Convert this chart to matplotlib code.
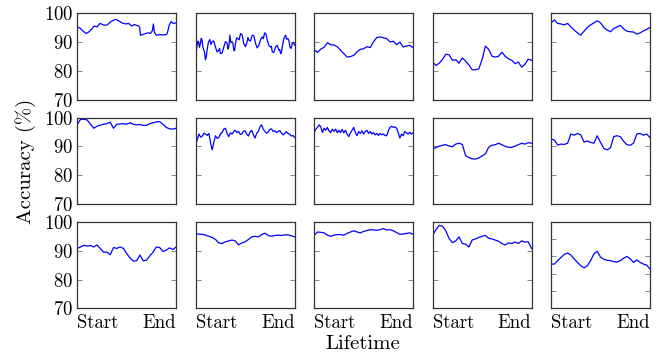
import numpy as np
import matplotlib
matplotlib.use("Agg")
import matplotlib.pyplot as plt

plt.rcParams['font.family'] = ['cmr10', 'DejaVu Serif']
plt.rcParams['mathtext.fontset'] = 'cm'
plt.rcParams['axes.unicode_minus'] = False
plt.rcParams['axes.formatter.use_mathtext'] = True

# --- data: accuracy (%) over the lifetime (0 = start, 100 = end) ---
# row 1
t11 = [0, 3, 6, 9, 12, 15, 17, 20, 23, 27, 30, 34, 36, 39, 42, 45, 49, 52, 55, 58,
       60, 62, 63, 64, 66, 69, 72, 74, 76, 77, 78, 80, 83, 87, 90, 91, 93, 95, 97, 100]
a11 = [95.3, 94.8, 93.8, 93.0, 93.6, 94.7, 95.6, 95.3, 96.5, 95.9, 95.9, 97.1, 97.5, 97.9, 97.4,
       96.7, 96.3, 96.5, 95.6, 96.1, 95.8, 95.6, 95.3, 92.4, 92.6, 93.0, 93.2, 93.0, 94.0, 96.3,
       93.4, 92.4, 92.6, 92.5, 92.6, 93.0, 95.9, 97.1, 96.5, 96.7]
t12 = [0, 0.7, 1.4, 2.2, 3, 3.8, 4.7, 5.5, 6.4, 7.2, 8.1, 9.0, 9.8, 10.6, 11.5, 12.8, 14.2, 15.4,
       16.6, 18.2, 19.9, 21.6, 23.3, 24.1, 25, 26.7, 28.4, 30.1, 31.8, 32.6, 33.4, 34.0, 34.5, 35.6,
       36.8, 37.6, 38.5, 39.3, 40.2, 41.4, 42.6, 44.0, 45.3, 47.0, 48.6, 50.3, 52, 52.8, 53.7, 55.4,
       57.1, 58.8, 60.5, 62.2, 63.9, 65.5, 67.2, 68.4, 69.6, 71.0, 72.3, 74.0, 75.7, 76.5, 77.4,
       79.0, 80.7, 82.4, 84.1, 85.0, 85.8, 86.6, 87.5, 89.2, 90.9, 92.0, 93.2, 94.2, 95.3, 96.4,
       97.6, 98.8, 100]
a12 = [88.3, 87.2, 88.9, 90.3, 89.7, 88.2, 89.5, 91.3, 90.7, 88.4, 87.2, 86.5, 83.9, 84.8, 87.2,
       90.0, 90.9, 89.2, 90.1, 90.4, 88.3, 86.6, 87.2, 87.8, 86.0, 86.2, 88.3, 90.2, 89.5, 87.6,
       88.3, 90.0, 92.4, 89.8, 90.1, 89.6, 87.2, 87.0, 89.5, 91.5, 91.2, 90.8, 93.0, 92.5, 89.5,
       88.4, 90.1, 91.6, 90.7, 90.4, 92.4, 92.2, 89.5, 88.0, 88.9, 90.8, 91.8, 91.2, 93.2, 92.9,
       90.7, 88.8, 88.3, 88.6, 86.6, 86.4, 88.3, 88.9, 87.2, 87.4, 86.0, 86.2, 88.3, 91.3, 92.4,
       91.0, 91.2, 90.6, 88.3, 87.8, 89.5, 89.9, 88.9]
a13 = [87.4, 86.4, 87.6, 88.2, 89.8, 89.1, 89.0, 88.4, 87.2, 86.0, 84.8, 85.0, 85.4, 86.6, 87.5,
       87.7, 88.4, 88.1, 90.1, 91.6, 91.8, 91.5, 91.2, 90.1, 90.3, 89.1, 90.0, 88.3, 88.6, 88.9, 88.1]
a14 = [83.1, 81.9, 82.7, 84.0, 85.8, 85.6, 83.7, 83.9, 82.7, 84.5, 83.4, 82.1, 80.4, 80.4, 80.7,
       83.9, 88.6, 87.5, 85.1, 84.8, 85.1, 86.5, 85.1, 84.2, 83.7, 82.5, 83.1, 81.3, 82.3, 84.1, 83.7]
a15 = [96.7, 97.7, 96.5, 96.3, 96.0, 96.5, 95.3, 94.2, 93.2, 92.4, 93.8, 95.1, 96.0, 96.7, 97.4,
       96.7, 95.1, 94.2, 93.6, 94.7, 95.3, 95.8, 94.6, 93.8, 93.6, 93.5, 92.8, 93.2, 93.9, 94.4, 95.1]
# row 2
a21 = [97.7, 99.4, 99.4, 99.2, 97.7, 96.3, 97.0, 97.4, 97.7, 97.9, 98.4, 96.3, 97.7, 97.8, 97.9,
       97.7, 98.2, 97.7, 97.5, 97.6, 97.3, 97.3, 97.9, 98.2, 98.5, 98.6, 97.7, 96.6, 96.1, 96.0, 96.3]
a22 = [90.3, 92.6, 94.3, 93.2, 93.6, 94.6, 94.3, 93.8, 94.5, 91.2, 88.8, 91.5, 93.7, 92.8, 93.1,
       94.4, 94.8, 96.0, 96.3, 94.6, 93.4, 94.7, 94.3, 95.1, 95.6, 94.8, 95.2, 94.2, 94.3, 95.3,
       95.4, 94.2, 93.6, 95.0, 95.6, 94.0, 92.9, 94.6, 95.2, 96.8, 97.5, 95.9, 95.2, 94.6, 95.0,
       95.9, 96.1, 95.2, 95.4, 94.8, 95.2, 95.5, 94.7, 94.0, 94.5, 95.1, 94.5, 94.2, 93.6, 93.8, 93.1]
a23 = [94.8, 96.0, 96.6, 97.5, 96.8, 94.8, 96.3, 95.6, 96.6, 95.4, 94.8, 96.0, 95.2, 96.0, 94.8,
       95.6, 94.8, 95.9, 94.7, 95.6, 94.3, 93.4, 94.7, 95.6, 96.6, 94.8, 93.7, 95.2, 94.5, 95.4,
       94.3, 95.2, 95.6, 94.5, 95.2, 94.3, 94.8, 94.0, 94.5, 93.8, 94.5, 94.0, 94.3, 93.8, 93.7,
       95.4, 96.6, 97.0, 96.6, 96.8, 96.3, 94.8, 92.9, 94.3, 93.7, 95.2, 94.7, 94.3, 94.9, 94.3, 94.7]
a24 = [89.1, 89.6, 90.1, 90.4, 90.6, 90.1, 89.9, 90.8, 91.1, 90.7, 86.8, 86.1, 85.7, 85.6, 86.0,
       86.7, 87.4, 89.7, 90.4, 90.6, 91.1, 90.6, 90.0, 89.7, 89.7, 90.1, 90.6, 91.1, 90.8, 91.3, 91.1]
a25 = [92.6, 92.2, 90.5, 90.8, 90.7, 91.1, 94.3, 93.9, 94.5, 94.0, 91.5, 91.9, 91.4, 91.1, 93.7,
       91.4, 89.3, 88.8, 89.5, 93.4, 93.7, 93.4, 91.8, 90.6, 90.4, 91.1, 94.3, 94.5, 93.9, 94.3, 93.1]
# row 3
a31 = [90.8, 91.3, 91.9, 91.6, 91.8, 91.3, 92.0, 90.7, 89.5, 89.5, 88.6, 91.1, 90.8, 91.3, 90.8,
       89.0, 87.5, 86.4, 86.5, 88.5, 86.5, 86.7, 88.2, 89.5, 91.3, 91.1, 89.7, 90.2, 91.0, 90.4, 91.3]
a32 = [96.0, 95.7, 95.7, 95.4, 95.0, 94.6, 93.9, 92.7, 92.5, 93.1, 93.4, 93.7, 93.4, 92.0, 92.7,
       93.1, 93.9, 94.8, 95.0, 94.8, 95.6, 96.1, 95.3, 95.0, 95.3, 95.4, 95.3, 95.5, 95.5, 95.2, 94.8]
a33 = [95.4, 96.5, 96.4, 96.2, 95.4, 95.0, 95.4, 95.6, 95.6, 95.4, 96.0, 96.5, 96.9, 96.5, 96.2,
       96.7, 97.0, 97.3, 97.2, 97.1, 97.3, 97.7, 97.2, 97.3, 96.9, 96.3, 95.7, 95.8, 96.0, 96.2, 95.7]
a34 = [95.4, 97.3, 98.8, 98.5, 96.9, 94.2, 92.8, 93.4, 94.8, 92.5, 92.3, 91.3, 93.7, 94.1, 94.6,
       95.0, 95.3, 94.3, 94.1, 93.7, 93.3, 92.5, 92.0, 92.7, 92.5, 93.0, 92.5, 93.4, 93.0, 93.1, 90.8]
a35 = [87.8, 87.8, 88.8, 89.7, 90.6, 91.0, 90.4, 89.3, 88.3, 87.3, 86.7, 87.3, 88.8, 90.8, 91.5,
       89.8, 89.2, 88.9, 88.8, 88.5, 88.4, 88.8, 89.5, 90.0, 89.3, 88.3, 89.0, 88.3, 87.8, 87.5, 86.4]

y_ticks = [70, 80, 90, 100]
y_ticks_last = [80, 85, 90, 95]
x_labels = ['Start', 'End']

rows = [
    [(t11, a11), (t12, a12), (None, a13), (None, a14), (None, a15)],
    [(None, a21), (None, a22), (None, a23), (None, a24), (None, a25)],
    [(None, a31), (None, a32), (None, a33), (None, a34), (None, a35)],
]

fs = 13.5
fig, axes = plt.subplots(3, 5, figsize=(6.65, 3.58), dpi=100)
fig.subplots_adjust(left=0.1162, right=0.9774, top=0.9628, bottom=0.1388,
                    wspace=0.198, hspace=0.207)

for i, row in enumerate(rows):
    for j, (t, acc) in enumerate(row):
        ax = axes[i, j]
        if t is None:
            t = np.linspace(0, 100, len(acc))
        ax.plot(t, acc, color='b', lw=0.9)
        ax.set_xlim(0, 100)
        if i == 2 and j == 4:
            ax.set_ylim(75, 100)
            ax.set_yticks(y_ticks_last)
        else:
            ax.set_ylim(70, 100)
            ax.set_yticks(y_ticks)
        for s in ax.spines.values():
            s.set_linewidth(0.9)
            s.set_color('0.2')
        ax.tick_params(axis='y', direction='in', left=True, right=True,
                       length=3.5, width=0.6, color='0.45', labelsize=fs, pad=3)
        ax.tick_params(axis='x', length=0, labelsize=fs, pad=4)
        if j > 0:
            ax.set_yticklabels([])
        if i == 2:
            ax.set_xticks([0, 100])
            labs = ax.set_xticklabels(x_labels)
            labs[0].set_ha('left')
            labs[1].set_ha('right')
        else:
            ax.set_xticks([])

fig.text(0.038, 0.55, 'Accuracy (%)', rotation=90, ha='center', va='center', fontsize=15)
fig.text(0.546, 0.04, 'Lifetime', ha='center', va='center', fontsize=15)

fig.savefig('out.png', dpi=100)
